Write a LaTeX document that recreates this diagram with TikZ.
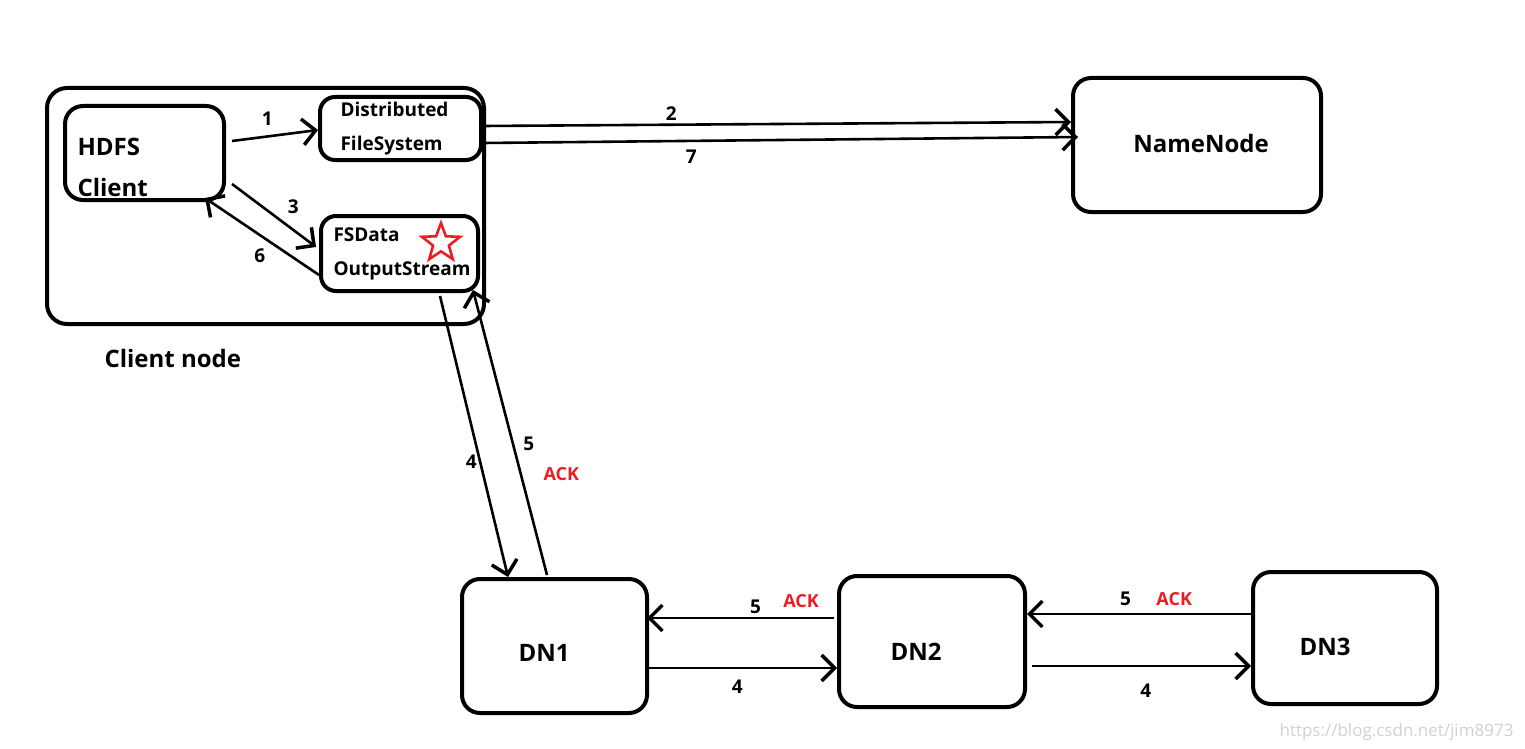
\documentclass[tikz,border=0pt]{standalone}
\usepackage{fontspec}
\setmainfont{Open Sans}
\usetikzlibrary{arrows.meta,positioning,shapes.geometric}
\definecolor{ackred}{RGB}{237,28,36}

\begin{document}
\begin{tikzpicture}[
    x=1pt, y=-1pt,
    box/.style={draw, line width=4pt, rounded corners=18pt, inner sep=0pt},
    myarrow/.style={line width=2.6pt, -{Straight Barb[length=13pt,width=26pt,line width=3.5pt]}},
    bigtext/.style={font=\fontsize{24}{41}\selectfont\bfseries},
    midtext/.style={font=\fontsize{19}{34}\selectfont\bfseries},
    num/.style={font=\fontsize{19}{22}\selectfont\bfseries, inner sep=2pt},
    ack/.style={font=\fontsize{18}{20}\selectfont\bfseries, text=ackred, inner sep=2pt}
  ]

  \useasboundingbox (0,0) rectangle (1525,749);

  % client node
  \node[box, minimum width=437pt, minimum height=236pt, rounded corners=20pt] (clientnode) at (265.5,206) {};
  \node[box, minimum width=159pt, minimum height=94pt] (hdfs) at (144.5,153) {};
  \node[box, minimum width=161pt, minimum height=63pt, rounded corners=15pt] (dfs) at (400.5,128.5) {};
  \node[box, minimum width=157pt, minimum height=75pt, rounded corners=15pt] (fsdos) at (399.5,253.5) {};

  \node[bigtext, anchor=west, align=left] (hdfstext) at (74,167.5) {HDFS\\Client};
  \node[midtext, anchor=west, align=left] (dfstext) at (337,129) {Distributed\\FileSystem};
  \node[midtext, anchor=west, align=left] (fsdostext) at (330,254) {FSData\\OutputStream};
  \node[star, star points=5, star point ratio=2.4, draw=ackred, line width=2.6pt,
        minimum size=40pt, inner sep=0pt] (redstar) at (441,243) {};
  \node[bigtext, anchor=west] (clientlabel) at (101,358) {Client node};

  % name node and data nodes
  \node[box, minimum width=248pt, minimum height=134pt] (nn) at (1197,145) {};
  \node[bigtext] (nntext) at (1201,143) {NameNode};
  \node[box, minimum width=185pt, minimum height=134pt] (dn1) at (554.5,646) {};
  \node[bigtext] (dn1text) at (544,653) {DN1};
  \node[box, minimum width=186pt, minimum height=131pt] (dn2) at (932,641.5) {};
  \node[bigtext] (dn2text) at (916,652) {DN2};
  \node[box, minimum width=184pt, minimum height=132pt] (dn3) at (1345,638) {};
  \node[bigtext] (dn3text) at (1325,647) {DN3};

  % client side arrows
  \draw[myarrow] ([xshift=6pt,yshift=12pt]hdfs.east) -- node[num, pos=.41, above=8pt] {1} ([yshift=-1.5pt]dfs.west);
  \draw[myarrow] ([xshift=6pt,yshift=-31pt]hdfs.east) -- node[num, pos=.73, above=13pt] {3} ([xshift=-3pt,yshift=6.5pt]fsdos.west);
  \draw[myarrow] ([yshift=-21.5pt]fsdos.west) -- node[num, pos=.52, below=11pt] {6} ([xshift=60.5pt,yshift=4pt]hdfs.south);

  % to the name node
  \draw[myarrow] ([yshift=2.5pt]dfs.east) -- node[num, pos=.32, above=1pt] {2} ([yshift=23pt]nn.west);
  \draw[myarrow] ([yshift=-14.5pt]dfs.east) -- node[num, pos=.35, below=6pt] {7} ([xshift=7pt,yshift=8pt]nn.west);

  % pipeline
  \draw[myarrow] ([xshift=40.5pt,yshift=-3pt]fsdos.south) -- node[num, pos=.59, left=0pt] {4} ([xshift=-46.5pt]dn1.north);
  \draw[myarrow] ([xshift=-7.5pt,yshift=2pt]dn1.north) -- node[num, pos=.46, right=7pt] (ack1num) {5} ([xshift=73.5pt,yshift=3pt]fsdos.south);
  \node[ack, below right=11pt and 4pt of ack1num] (ack1) {ACK};

  \draw[myarrow] ([xshift=-3pt,yshift=23.5pt]dn2.west) -- node[num, pos=.42, above=1pt] (ack2num) {5} ([xshift=-2pt,yshift=28pt]dn1.east);
  \node[ack, right=17pt of ack2num, yshift=6pt] (ack2) {ACK};
  \draw[myarrow] ([yshift=-22pt]dn1.east) -- node[num, pos=.47, below=9pt] {4} ([yshift=-26.5pt]dn2.west);

  \draw[myarrow] ([yshift=24pt]dn3.west) -- node[num, pos=.56, above=5pt] (ack3num) {5} ([yshift=27.5pt]dn2.east);
  \node[ack, right=20pt of ack3num] (ack3) {ACK};
  \draw[myarrow] ([xshift=5pt,yshift=-24.5pt]dn2.east) -- node[num, pos=.52, below=15pt] {4} ([yshift=-28pt]dn3.west);

  \node[font=\fontsize{17}{20}\selectfont, text=black!18, anchor=east] (watermark) at (1517,732) {https://blog.csdn.net/jim8973};

\end{tikzpicture}
\end{document}
